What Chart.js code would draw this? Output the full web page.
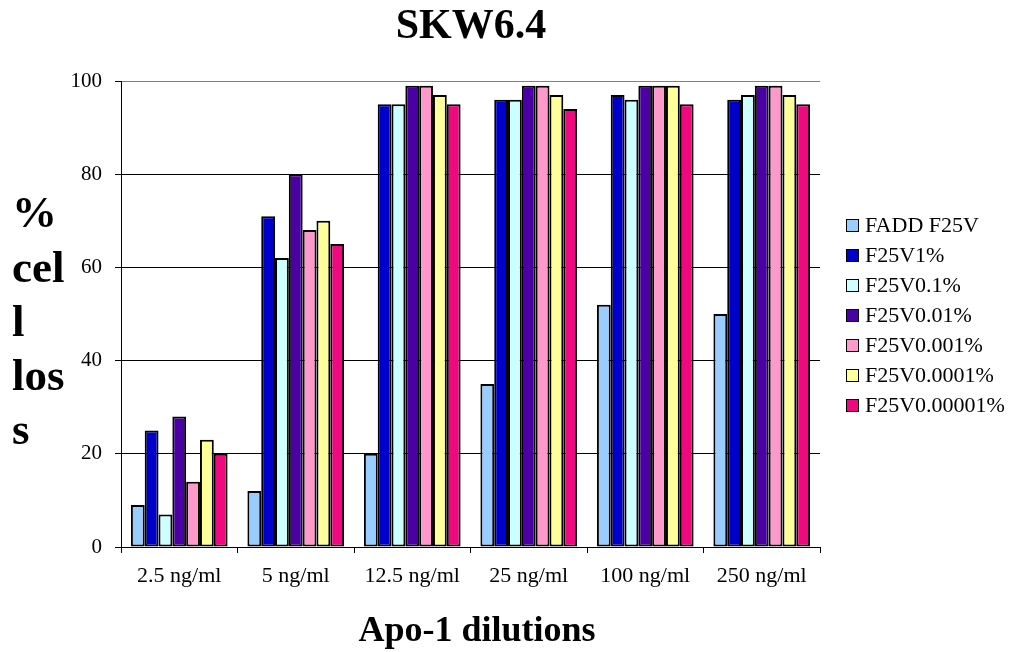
<!DOCTYPE html>
<html>
<head>
<meta charset="utf-8">
<script src="https://cdn.jsdelivr.net/npm/chart.js@4"></script>
<style>
  html, body { margin: 0; padding: 0; background: #fff; }
  #wrap { position: relative; width: 1013px; height: 652px; }
  #legend { position: absolute; left: 846px; top: 210px; font-family: "Liberation Serif", serif; font-size: 22px; color: #000; }
  #legend div { height: 30px; line-height: 30px; white-space: nowrap; }
  #legend span { display: inline-block; width: 11px; height: 11px; border: 1.5px solid #000; margin-right: 6px; vertical-align: 0px; }
</style>
</head>
<body>
<div id="wrap">
  <canvas id="chart" width="1013" height="652"></canvas>
  <div id="legend"></div>
</div>
<script>
const categories = ['2.5 ng/ml', '5 ng/ml', '12.5 ng/ml', '25 ng/ml', '100 ng/ml', '250 ng/ml'];
const seriesNames = ['FADD F25V', 'F25V1%', 'F25V0.1%', 'F25V0.01%', 'F25V0.001%', 'F25V0.0001%', 'F25V0.00001%'];
const faddF25V   = [9, 12, 20, 35, 52, 50];
const f25v1      = [25, 71, 95, 96, 97, 96];
const f25v01     = [7, 62, 95, 96, 96, 97];
const f25v001    = [28, 80, 99, 99, 99, 99];
const f25v0001   = [14, 68, 99, 99, 99, 99];
const f25v00001  = [23, 70, 97, 97, 99, 97];
const f25v000001 = [20, 65, 95, 94, 95, 95];
const yTicks = [0, 20, 40, 60, 80, 100];

const colors = ['#99CCFF', '#0000CC', '#CCFFFF', '#4B00A6', '#FF99CC', '#FFFF99', '#F0087F'];
const values = [faddF25V, f25v1, f25v01, f25v001, f25v0001, f25v00001, f25v000001];
const serif = '"Liberation Serif", "Times New Roman", serif';

// legend as html
const legendEl = document.getElementById('legend');
seriesNames.forEach((name, i) => {
    const row = document.createElement('div');
    const box = document.createElement('span');
    box.style.background = colors[i];
    row.appendChild(box);
    row.appendChild(document.createTextNode(name));
    legendEl.appendChild(row);
});

// titles drawn on the canvas
const titlesPlugin = {
    id: 'titles',
    afterDraw(chart) {
        const c = chart.ctx;
        c.save();
        c.fillStyle = '#000';
        c.textAlign = 'center';
        c.textBaseline = 'middle';
        c.font = 'bold 42px ' + serif;
        c.fillText('SKW6.4', 471, 27);
        c.font = 'bold 36px ' + serif;
        c.fillText('Apo-1 dilutions', 477, 632);
        c.textAlign = 'left';
        c.font = 'bold 45px ' + serif;
        const lines = ['%', 'cel', 'l', 'los', 's'];
        const ys = [215, 270, 324, 378, 432];
        lines.forEach((t, i) => c.fillText(t, 12, ys[i]));
        c.restore();
    }
};

new Chart(document.getElementById('chart'), {
    type: 'bar',
    data: {
        labels: categories,
        datasets: seriesNames.map((name, i) => ({
            label: name,
            data: values[i],
            backgroundColor: colors[i],
            borderColor: '#000',
            borderWidth: 2,
            borderSkipped: false,
            categoryPercentage: 0.83,
            barPercentage: 1.0
        }))
    },
    options: {
        responsive: false,
        animation: false,
        layout: { padding: { left: 0, top: 81, right: 193, bottom: 65 } },
        plugins: {
            legend: { display: false },
            tooltip: { enabled: false }
        },
        scales: {
            x: {
                afterFit(scale) { scale.height = 40; },
                grid: {
                    offset: true,
                    drawOnChartArea: false,
                    color: '#000',
                    tickLength: 6,
                    tickColor: '#000'
                },
                border: { color: '#000', width: 1 },
                ticks: {
                    color: '#000',
                    font: { family: serif, size: 22 },
                    padding: 10
                }
            },
            y: {
                min: 0,
                max: 100,
                afterFit(scale) { scale.width = 121; },
                afterBuildTicks(scale) { scale.ticks = yTicks.map(v => ({ value: v })); },
                grid: {
                    color: (ctx) => ctx.tick && ctx.tick.value === 100 ? '#808080' : '#000',
                    lineWidth: 1,
                    tickLength: 6,
                    tickColor: '#000'
                },
                border: { color: '#000', width: 1 },
                ticks: {
                    color: '#000',
                    font: { family: serif, size: 21 },
                    padding: 13
                }
            }
        }
    },
    plugins: [titlesPlugin]
});
</script>
</body>
</html>
